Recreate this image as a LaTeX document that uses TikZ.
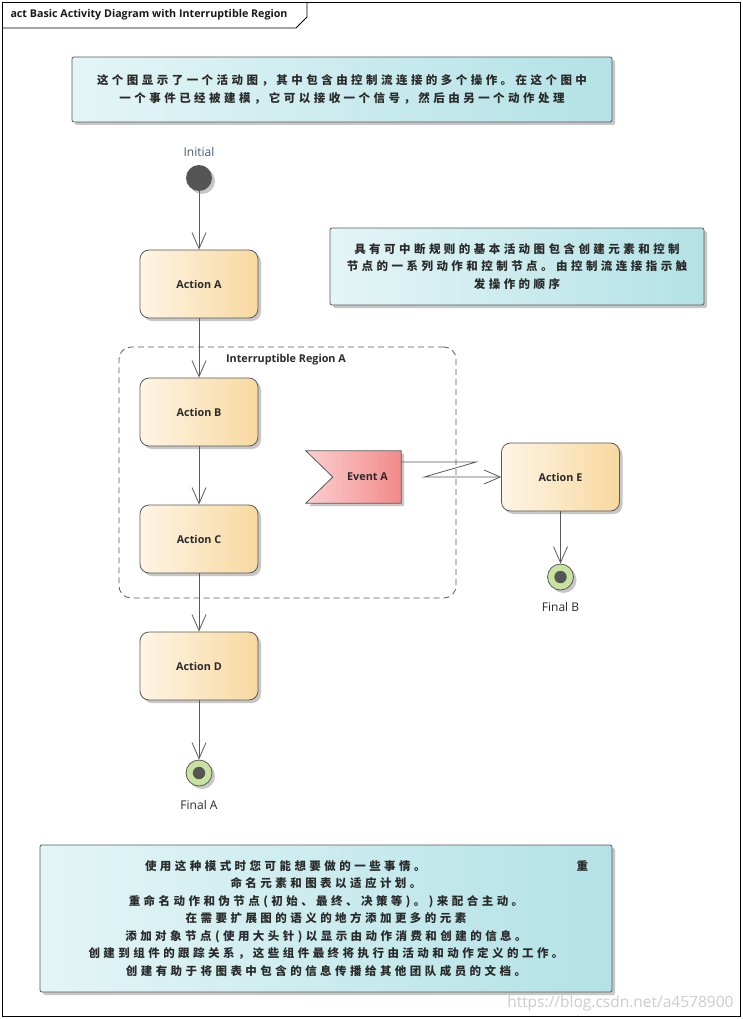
\documentclass[tikz,border=0pt]{standalone}
\usepackage{fontspec}
\setmainfont{Open Sans}
\newfontfamily\cjkf[LetterSpace=30]{Noto Sans CJK SC}
\usetikzlibrary{arrows.meta,shadows,backgrounds}
\definecolor{edge}{HTML}{5A5A5A}
\definecolor{actL}{HTML}{FEF5E6}
\definecolor{actR}{HTML}{F8D8A0}
\definecolor{evL}{HTML}{FCCFCF}
\definecolor{evR}{HTML}{F28A8A}
\definecolor{noteL}{HTML}{E4F5F6}
\definecolor{noteR}{HTML}{B3E2E6}
\definecolor{finfill}{HTML}{C8E2A0}
\definecolor{dotc}{HTML}{555555}
\definecolor{txt}{HTML}{2A2A2A}
\definecolor{lbl}{HTML}{3D5F7A}
\tikzset{
  shad/.style={drop shadow={shadow xshift=3pt,shadow yshift=-3pt,fill=black!22,opacity=1}},
  action/.style={draw=edge,line width=0.8pt,rounded corners=9pt,left color=actL,right color=actR,
    minimum width=118pt,minimum height=68pt,inner sep=0pt,font=\bfseries\fontsize{10.8}{12}\selectfont,text=txt,shad},
  note/.style={draw=edge,line width=0.8pt,rounded corners=2pt,left color=noteL,right color=noteR,
    inner sep=0pt,align=center,text=txt,font={\cjkf\bfseries\fontsize{11.5pt}{17.5pt}\selectfont},shad},
  initnode/.style={circle,fill=dotc,minimum size=26pt,inner sep=0pt,shad},
  finalnode/.style={circle,draw=edge,line width=0.8pt,fill=finfill,minimum size=26pt,inner sep=0pt,shad,
    path picture={\fill[dotc] (path picture bounding box.center) circle (6.2pt);}},
  lbltext/.style={font=\fontsize{12}{14}\selectfont},
  flow/.style={draw=edge,line width=0.8pt,-{Straight Barb[length=16pt,width=14pt,line width=0.8pt]}},
  region/.style={draw=edge,line width=0.8pt,dash pattern=on 6pt off 4pt,rounded corners=12pt,
    minimum width=337pt,minimum height=251pt,inner sep=0pt}
}
\begin{document}
\begin{tikzpicture}[x=1pt,y=-1pt]
\useasboundingbox (0,0) rectangle (743,1019);
\begin{scope}[on background layer]
\fill[white] (0,0) rectangle (743,1019);
\end{scope}
% frame
\draw[black,line width=0.8pt] (2,2) rectangle (740,1016);
\draw[black,line width=0.8pt] (2,28) -- (296,28) -- (307,17) -- (307,2);
\node[anchor=west,font=\bfseries\fontsize{10.7}{12}\selectfont,text=black!90] (title) at (7,14.5) {act Basic Activity Diagram with Interruptible Region};

% notes
\node[note,minimum width=540pt,minimum height=65pt] (n1) at (342,89.5)
  {这个图显示了一个活动图，其中包含由控制流连接的多个操作。在这个图中\\
   一个事件已经被建模，它可以接收一个信号，然后由另一个动作处理};
\node[note,minimum width=374pt,minimum height=77pt] (n2) at (517,266.5)
  {具有可中断规则的基本活动图包含创建元素和控制\\
   节点的一系列动作和控制节点。由控制流连接指示触\\
   发操作的顺序};
\node[note,minimum width=572pt,minimum height=147pt] (n3) at (326,918.5)
  {\makebox[524pt][r]{\makebox[443pt][l]{使用这种模式时您可能想要做的一些事情。\hfill 重}}\\
   命名元素和图表以适应计划。\\
   重命名动作和伪节点(初始、最终、决策等)。)来配合主动。\\
   在需要扩展图的语义的地方添加更多的元素\\
   添加对象节点(使用大头针)以显示由动作消费和创建的信息。\\
   创建到组件的跟踪关系，这些组件最终将执行由活动和动作定义的工作。\\
   创建有助于将图表中包含的信息传播给其他团队成员的文档。};

% region
\node[region] (reg) at (287.5,472.5) {};
\node[font=\bfseries\fontsize{10.8}{12}\selectfont,text=txt] (regl) at (286,360) {Interruptible Region A};

% nodes
\node[initnode] (init) at (199,178) {};
\node[lbltext,text=lbl] (initl) at (199,152) {Initial};
\node[action] (aA) at (199,284) {Action A};
\node[action] (aB) at (199,412) {Action B};
\node[action] (aC) at (199,539) {Action C};
\node[action] (aD) at (199,666) {Action D};
\node[action] (aE) at (560.5,477) {Action E};
\node[finalnode] (fA) at (199,773) {};
\node[lbltext,text=txt] (fAl) at (199,805) {Final A};
\node[finalnode] (fB) at (560.5,577) {};
\node[lbltext,text=txt] (fBl) at (560.5,607) {Final B};

% event
\node[minimum width=95pt,minimum height=52pt,inner sep=0pt,font=\bfseries\fontsize{10.8}{12}\selectfont,text=txt] (ev) at (353.5,477) {\hspace*{28pt}Event A};
\begin{scope}[on background layer]
\path[draw=edge,line width=0.8pt,left color=evL,right color=evR,shad]
  (ev.north west) -- (ev.north east) -- (ev.south east) -- (ev.south west) -- ([xshift=27pt]ev.west) -- cycle;
\end{scope}

% connectors
\draw[flow] (init) -- (aA);
\draw[flow] (aA) -- (aB);
\draw[flow] (aB) -- (aC);
\draw[flow] (aC) -- (aD);
\draw[flow] (aD) -- (fA);
\draw[flow] (aE) -- (fB);
\draw[flow] ([yshift=15pt]ev.east) -- ++(75,0) -- ([xshift=23pt]ev.east) -- (aE.west);

% watermark
\node[anchor=east,text=black!20,font=\fontsize{15.5}{17}\selectfont] (wm) at (737,1003) {https://blog.csdn.net/a4578900};
\end{tikzpicture}
\end{document}
